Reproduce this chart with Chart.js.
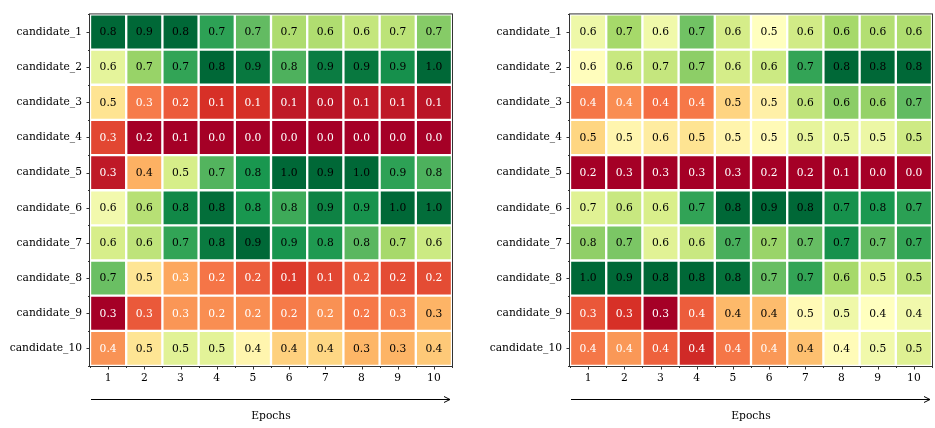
<!DOCTYPE html>
<html lang="en">
<head>
<meta charset="UTF-8">
<title>Candidates over epochs</title>
<script src="https://cdn.jsdelivr.net/npm/chart.js@4.4.1/dist/chart.umd.min.js"></script>
<style>
    body { margin: 0; background: #fff; }
    .panel { position: absolute; top: 0; }
</style>
</head>
<body>
<div class="panel" style="left:0"><canvas id="left" width="467" height="428"></canvas></div>
<div class="panel" style="left:467px"><canvas id="right" width="468" height="428"></canvas></div>

<script>
const candidates = ['candidate_1', 'candidate_2', 'candidate_3', 'candidate_4', 'candidate_5',
                    'candidate_6', 'candidate_7', 'candidate_8', 'candidate_9', 'candidate_10']
const epochs = ['1', '2', '3', '4', '5', '6', '7', '8', '9', '10']

// rows = candidates, columns = epochs
const leftValues = [
    [0.84, 0.88, 0.84, 0.72, 0.74, 0.68, 0.64, 0.63, 0.67, 0.74],
    [0.59, 0.68, 0.74, 0.82, 0.89, 0.82, 0.90, 0.93, 0.92, 0.98],
    [0.50, 0.32, 0.21, 0.10, 0.09, 0.08, 0.04, 0.09, 0.09, 0.06],
    [0.34, 0.16, 0.08, 0.02, 0.00, 0.03, 0.00, 0.04, 0.04, 0.02],
    [0.29, 0.38, 0.54, 0.68, 0.83, 0.98, 0.94, 0.96, 0.88, 0.82],
    [0.57, 0.64, 0.79, 0.81, 0.83, 0.84, 0.89, 0.88, 1.00, 0.97],
    [0.61, 0.63, 0.74, 0.79, 0.92, 0.89, 0.84, 0.79, 0.71, 0.62],
    [0.72, 0.46, 0.30, 0.19, 0.16, 0.14, 0.13, 0.20, 0.18, 0.16],
    [0.26, 0.28, 0.28, 0.22, 0.23, 0.24, 0.24, 0.24, 0.26, 0.32],
    [0.41, 0.46, 0.52, 0.48, 0.43, 0.38, 0.36, 0.33, 0.34, 0.36]
]

const rightValues = [
    [0.63, 0.68, 0.61, 0.70, 0.60, 0.54, 0.57, 0.59, 0.58, 0.56],
    [0.59, 0.64, 0.66, 0.68, 0.60, 0.62, 0.72, 0.80, 0.84, 0.82],
    [0.37, 0.41, 0.44, 0.44, 0.47, 0.51, 0.59, 0.62, 0.62, 0.66],
    [0.50, 0.54, 0.56, 0.53, 0.52, 0.53, 0.54, 0.49, 0.48, 0.51],
    [0.20, 0.26, 0.34, 0.34, 0.26, 0.22, 0.20, 0.10, 0.04, 0.00],
    [0.66, 0.64, 0.64, 0.74, 0.82, 0.86, 0.80, 0.74, 0.76, 0.72],
    [0.78, 0.72, 0.63, 0.63, 0.73, 0.68, 0.68, 0.74, 0.68, 0.71],
    [0.99, 0.86, 0.84, 0.80, 0.81, 0.73, 0.72, 0.59, 0.52, 0.53],
    [0.33, 0.32, 0.34, 0.42, 0.44, 0.43, 0.49, 0.48, 0.44, 0.44],
    [0.37, 0.42, 0.43, 0.38, 0.38, 0.39, 0.40, 0.44, 0.47, 0.48]
]

const FONT = { family: '"DejaVu Serif", serif', size: 10.7 }

const rdylgn = ['#a50026', '#d73027', '#f46d43', '#fdae61', '#fee08b', '#ffffbf',
                '#d9ef8b', '#a6d96a', '#66bd63', '#1a9850', '#006837']

const hexToRgb = (h) => [1, 3, 5].map(k => parseInt(h.substr(k, 2), 16))

const colorAt = (t) => {
    t = Math.min(1, Math.max(0, t))
    const pos = t * (rdylgn.length - 1)
    const i = Math.min(Math.floor(pos), rdylgn.length - 2)
    const f = pos - i
    const a = hexToRgb(rdylgn[i]), b = hexToRgb(rdylgn[i + 1])
    return `rgb(${a.map((v, k) => Math.round(v + (b[k] - v) * f)).join(',')})`
}

// every epoch column gets its own colour scale
const columnNorm = (values, j) => {
    const col = values.map(r => r[j])
    const lo = Math.min(...col), hi = Math.max(...col)
    return col.map(v => (v - lo) / (hi - lo))
}

const cellText = {
    id: 'cellText',
    afterDatasetsDraw(chart) {
        const ctx = chart.ctx
        ctx.save()
        ctx.font = `${FONT.size}px ${FONT.family}`
        ctx.textAlign = 'center'
        ctx.textBaseline = 'middle'
        chart.data.datasets.forEach((ds, j) => {
            chart.getDatasetMeta(j).data.forEach((bar, i) => {
                const p = bar.getCenterPoint()
                ctx.fillStyle = ds.norm[i] < 0.3 ? '#ffffff' : '#000000'
                ctx.fillText(ds.values[i].toFixed(1), p.x, p.y + 0.5)
            })
        })
        ctx.restore()
    }
}

const frame = {
    id: 'frame',
    afterDraw(chart) {
        const { ctx, chartArea: a, scales: { x, y } } = chart
        ctx.save()
        ctx.strokeStyle = '#333'
        ctx.lineWidth = 1
        ctx.strokeRect(a.left - 0.5, a.top - 0.5, a.width + 1, a.height + 1)

        ctx.beginPath()
        for (let k = 0; k <= epochs.length; k++) {
            const px = Math.round(x.getPixelForValue(k)) + 0.5
            ctx.moveTo(px, a.bottom); ctx.lineTo(px, a.bottom + 2)
            if (k < epochs.length) {
                const cx = Math.round(x.getPixelForValue(k + 0.5)) + 0.5
                ctx.moveTo(cx, a.bottom); ctx.lineTo(cx, a.bottom + 3.5)
            }
        }
        for (let k = 0; k <= candidates.length; k++) {
            const py = Math.round(y.getPixelForValue(k - 0.5)) + 0.5
            ctx.moveTo(a.left, py); ctx.lineTo(a.left - 2, py)
            if (k < candidates.length) {
                const cy = Math.round(y.getPixelForValue(k)) + 0.5
                ctx.moveTo(a.left, cy); ctx.lineTo(a.left - 3.5, cy)
            }
        }
        ctx.stroke()

        // arrow under the epoch ticks
        const ay = Math.round(a.bottom + 33) + 0.5
        const x0 = a.left + 1, x1 = a.right - 2
        ctx.strokeStyle = '#000'
        ctx.beginPath()
        ctx.moveTo(x0, ay); ctx.lineTo(x1, ay)
        ctx.moveTo(x1 - 6, ay - 3); ctx.lineTo(x1, ay); ctx.lineTo(x1 - 6, ay + 3)
        ctx.stroke()
        ctx.restore()
    }
}

const makeHeatmap = (id, values, yWidth, padRight) => {
    const datasets = epochs.map((e, j) => ({
        label: e,
        data: candidates.map(() => [j, j + 1]),
        values: values.map(r => r[j]),
        norm: columnNorm(values, j),
        backgroundColor: columnNorm(values, j).map(colorAt),
        borderColor: '#ffffff',
        borderWidth: 1.5,
        borderSkipped: false,
        grouped: false,
        barPercentage: 1,
        categoryPercentage: 1
    }))

    return new Chart(id, {
        type: 'bar',
        data: { labels: candidates, datasets },
        plugins: [cellText, frame],
        options: {
            indexAxis: 'y',
            responsive: false,
            animation: false,
            layout: { padding: { top: 4, right: padRight, left: 0, bottom: 0 } },
            plugins: { legend: { display: false }, tooltip: { enabled: false } },
            scales: {
                x: {
                    type: 'linear', min: 0, max: epochs.length,
                    grid: { display: false, drawTicks: false },
                    border: { display: false },
                    afterBuildTicks: (s) => { s.ticks = epochs.map((e, i) => ({ value: i + 0.5 })) },
                    afterFit: (s) => { s.height = 62 },
                    ticks: {
                        autoSkip: false, maxRotation: 0, padding: 5.5,
                        color: '#000', font: FONT,
                        callback: (v, i) => epochs[i]
                    },
                    title: {
                        display: true, text: 'Epochs', color: '#000', font: FONT,
                        padding: { top: 0, bottom: 5 }
                    }
                },
                y: {
                    grid: { display: false, drawTicks: false },
                    border: { display: false },
                    afterFit: (s) => { s.width = yWidth },
                    ticks: { autoSkip: false, padding: 8, color: '#000', font: FONT }
                }
            }
        }
    })
}

makeHeatmap('left', leftValues, 90, 15)
makeHeatmap('right', rightValues, 103, 3)
</script>
</body>
</html>
